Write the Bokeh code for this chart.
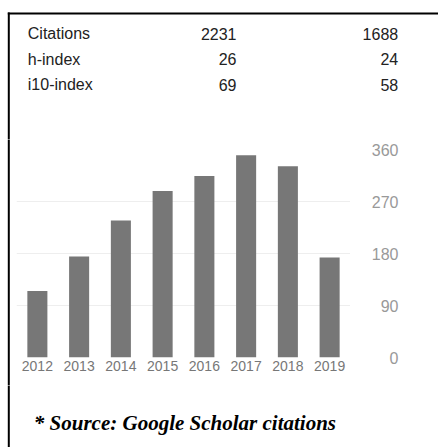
from bokeh.plotting import figure
from bokeh.layouts import column, row
from bokeh.models import Range1d, FixedTicker
from bokeh.core.properties import value
from bokeh.embed import file_html
from bokeh.resources import INLINE

years = ["2012", "2013", "2014", "2015", "2016", "2017", "2018", "2019"]
citations = [115, 175, 237, 288, 314, 350, 331, 173]
y_ticks = [0, 90, 180, 270, 360]

table_labels = ["Citations", "h-index", "i10-index"]
table_all = ["2231", "26", "69"]
table_since = ["1688", "24", "58"]
source_text = "* Source: Google Scholar citations"

TOTAL_W, TOTAL_H = 438, 447
TOP_H = 139
STRIP_W = 16
CHART_W = 334
Y_W = TOTAL_W - STRIP_W - CHART_W
CH_TOP, CH_FRAME, CH_BOT = 10, 208, 28
CH_H = CH_TOP + CH_FRAME + CH_BOT
BOT_H = TOTAL_H - TOP_H - CH_H
BORDER_X = 8.3
BORDER_TOP_Y = 13


def blank(w, h):
    f = figure(width=w, height=h, x_range=Range1d(0, w), y_range=Range1d(h, 0),
               x_axis_location=None, y_axis_location=None,
               output_backend="svg", toolbar_location=None, min_border=0,
               frame_align=False)
    f.grid.visible = False
    f.outline_line_color = None
    f.background_fill_color = "white"
    f.border_fill_color = "white"
    return f


# --- top block: statistics table and box border
top = blank(TOTAL_W, TOP_H)
row_y = [33, 58.5, 84]
col_x = [27.3, 236, 397.7]
col_align = ["left", "right", "right"]
for ci, col_vals in enumerate([table_labels, table_all, table_since]):
    top.text(x=[col_x[ci]] * len(col_vals), y=row_y, text=col_vals,
             text_align=col_align[ci], text_baseline="middle",
             text_font=value("Liberation Sans"), text_font_size="16px",
             text_color="#222222")
top.line(x=[BORDER_X - 1, TOTAL_W + 5], y=[BORDER_TOP_Y, BORDER_TOP_Y], line_color="black", line_width=2)
top.line(x=[BORDER_X, BORDER_X], y=[BORDER_TOP_Y - 1, TOP_H + 2], line_color="black", line_width=2)

# --- left strip carrying the border
strip = blank(STRIP_W, CH_H)
strip.line(x=[BORDER_X, BORDER_X], y=[-2, CH_H + 2], line_color="black", line_width=2)

# --- chart
yr = Range1d(0, 360)
xpos = list(range(len(years)))
chart = figure(width=CHART_W, height=CH_H, x_range=Range1d(-0.5, len(years) - 0.5),
               y_range=yr, y_axis_location=None,
               output_backend="svg", toolbar_location=None,
               min_border_left=0, min_border_right=0,
               min_border_top=CH_TOP, min_border_bottom=CH_BOT)
chart.outline_line_color = None
chart.background_fill_color = "white"
chart.border_fill_color = "white"
chart.vbar(x=xpos, top=citations, width=0.48, fill_color="#777777", line_color=None)
chart.xgrid.grid_line_color = None
chart.ygrid.grid_line_color = "#eeeeee"
chart.ygrid.ticker = FixedTicker(ticks=y_ticks)

xa = chart.xaxis[0]
xa.ticker = FixedTicker(ticks=xpos)
xa.major_label_overrides = {i: y for i, y in zip(xpos, years)}
xa.axis_line_color = None
xa.major_tick_line_color = None
xa.minor_tick_line_color = None
xa.major_tick_out = 0
xa.major_tick_in = 0
xa.major_label_standoff = 3
xa.major_label_text_font = "Liberation Sans"
xa.major_label_text_font_size = "14px"
xa.major_label_text_color = "#777777"

# --- y axis block (labels right-aligned next to the chart)
yfig = figure(width=Y_W, height=CH_H, x_range=Range1d(0, 1), y_range=yr,
              x_axis_location=None, y_axis_location="left",
              output_backend="svg", toolbar_location=None,
              min_border_left=48, min_border_right=0,
              min_border_top=CH_TOP, min_border_bottom=CH_BOT)
yfig.grid.visible = False
yfig.outline_line_color = None
yfig.background_fill_color = "white"
yfig.border_fill_color = "white"
ya = yfig.yaxis[0]
ya.ticker = FixedTicker(ticks=y_ticks)
ya.axis_line_color = None
ya.major_tick_line_color = None
ya.minor_tick_line_color = None
ya.major_tick_out = 0
ya.major_tick_in = 0
ya.major_label_standoff = 0
ya.major_label_text_font = "Liberation Sans"
ya.major_label_text_font_size = "16px"
ya.major_label_text_color = "#999999"

# --- bottom block: source note
bot = blank(TOTAL_W, BOT_H)
bot.text(x=[33.3], y=[422.5 - TOP_H - CH_H], text=[source_text],
         text_align="left", text_baseline="middle",
         text_font=value("Liberation Serif"), text_font_size="21px",
         text_font_style="bold italic", text_color="#000000")
bot.line(x=[BORDER_X, BORDER_X], y=[-2, BOT_H + 2], line_color="black", line_width=2)

layout = column(top, row(strip, chart, yfig, spacing=0), bot, spacing=0)

open("out.html", "w").write(file_html(layout, INLINE))
